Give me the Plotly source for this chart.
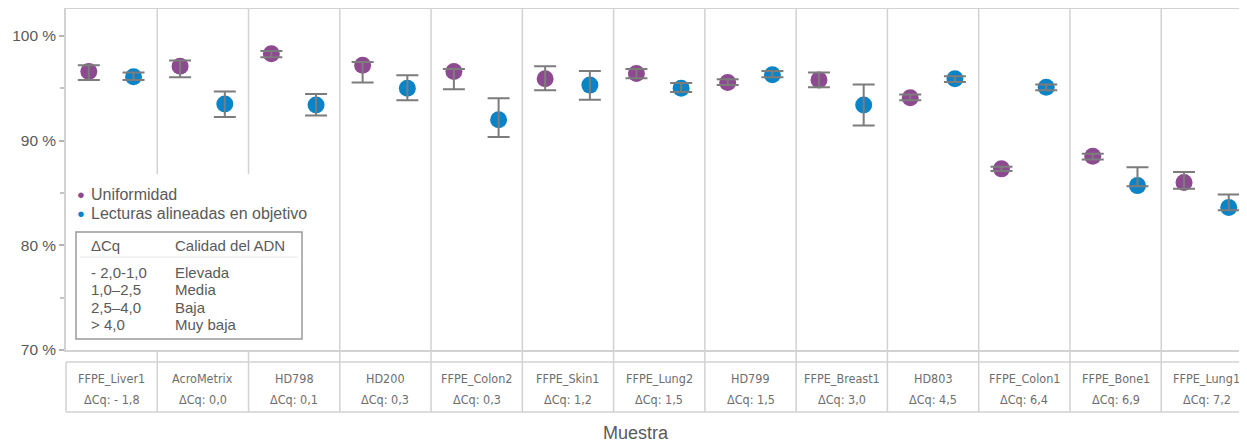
import numpy as np
import plotly.graph_objects as go

# ---------------- data ----------------
samples = ["FFPE_Liver1", "AcroMetrix", "HD798", "HD200", "FFPE_Colon2", "FFPE_Skin1",
           "FFPE_Lung2", "HD799", "FFPE_Breast1", "HD803", "FFPE_Colon1", "FFPE_Bone1", "FFPE_Lung1"]
dcq_labels = ["- 1,8", "0,0", "0,1", "0,3", "0,3", "1,2", "1,5", "1,5", "3,0", "4,5", "6,4", "6,9", "7,2"]

uniformidad = [96.6, 97.1, 98.3, 97.2, 96.6, 95.9, 96.4, 95.55, 95.8, 94.1, 87.3, 88.5, 86.0]
uniformidad_hi = [97.2, 97.65, 98.55, 97.5, 96.85, 97.1, 96.85, 95.85, 96.5, 94.4, 87.5, 88.75, 87.0]
uniformidad_lo = [95.8, 96.05, 97.95, 95.55, 94.9, 94.8, 95.95, 95.3, 95.1, 93.85, 87.1, 88.2, 85.4]

lecturas = [96.1, 93.5, 93.4, 95.0, 92.0, 95.3, 95.0, 96.3, 93.4, 95.9, 95.1, 85.7, 83.6]
lecturas_hi = [96.5, 94.7, 94.45, 96.25, 94.05, 96.65, 95.5, 96.65, 95.35, 96.15, 95.35, 87.45, 84.85]
lecturas_lo = [95.8, 92.25, 92.4, 93.85, 90.35, 93.9, 94.65, 96.05, 91.45, 95.6, 94.8, 85.65, 83.35]

y_tickvals = [70, 80, 90, 100]
y_ticktext = ["70 %", "80 %", "90 %", "100 %"]

legend_names = ["Uniformidad", "Lecturas alineadas en objetivo"]
box_header = ["ΔCq", "Calidad del ADN"]
box_ranges = ["- 2,0-1,0", "1,0–2,5", "2,5–4,0", "> 4,0"]
box_quality = ["Elevada", "Media", "Baja", "Muy baja"]
x_title = "Muestra"

# ---------------- styling ----------------
PURPLE = "#8E4A91"
BLUE = "#0A84C6"
ERR = "#7c7c7c"
GRID = "#d2d2d2"
TXT = "#5a5a5a"
FONT = "Liberation Sans, Arial, sans-serif"
NARROW = "Liberation Sans Narrow, DejaVu Sans Condensed, Liberation Sans, sans-serif"

OFF = 8                      # page body margin of the html page
W, H = 1247 - OFF, 443 - OFF
ML, MR, MT, MB = 58, 0, 1, 93
PH = H - MT - MB
PW = W - ML - MR


def py(ypx):
    """reference window pixel y -> paper y"""
    return (H - MB - (ypx - OFF)) / PH


def px(xpx):
    """reference window pixel x -> paper x"""
    return (xpx - OFF - ML) / PW


idx = np.arange(len(samples))
x_u = idx - 0.25
x_l = idx + 0.24


def err(v, hi, lo):
    v, hi, lo = np.array(v), np.array(hi), np.array(lo)
    return dict(type="data", symmetric=False, array=hi - v, arrayminus=v - lo,
                color=ERR, thickness=2, width=11)


fig = go.Figure()
fig.add_trace(go.Scatter(x=x_u, y=uniformidad, mode="markers", name=legend_names[0],
                         marker=dict(color=PURPLE, size=17), showlegend=False))
fig.add_trace(go.Scatter(x=x_l, y=lecturas, mode="markers", name=legend_names[1],
                         marker=dict(color=BLUE, size=17), showlegend=False))
# error bars drawn on top of the markers
fig.add_trace(go.Scatter(x=x_u, y=uniformidad, mode="markers", hoverinfo="skip",
                         marker=dict(color=PURPLE, size=1, opacity=0), showlegend=False,
                         error_y=err(uniformidad, uniformidad_hi, uniformidad_lo)))
fig.add_trace(go.Scatter(x=x_l, y=lecturas, mode="markers", hoverinfo="skip",
                         marker=dict(color=BLUE, size=1, opacity=0), showlegend=False,
                         error_y=err(lecturas, lecturas_hi, lecturas_lo)))

shapes = []
annotations = []
n = len(samples)
tbl_top, tbl_bot = py(362), py(412)
YTOP = 102.57


def note(x, y, text, size, color=TXT, family=FONT, xref="paper", xanchor="center"):
    annotations.append(dict(x=x, y=y, xref=xref, yref="paper", text=text, showarrow=False,
                            xanchor=xanchor, yanchor="middle",
                            font=dict(family=family, size=size, color=color)))


# vertical dividers
for i in range(n - 1):
    xv = i + 0.5
    if i < 2:
        shapes.append(dict(type="line", xref="x", yref="y", x0=xv, x1=xv, y0=86.8, y1=YTOP,
                           line=dict(color=GRID, width=1.5)))
        shapes.append(dict(type="line", xref="x", yref="paper", x0=xv, x1=xv, y0=tbl_bot, y1=0,
                           line=dict(color=GRID, width=1.5)))
    else:
        shapes.append(dict(type="line", xref="x", yref="paper", x0=xv, x1=xv, y0=tbl_bot, y1=1,
                           line=dict(color=GRID, width=1.5)))

# table frame
for yy in (tbl_top, tbl_bot):
    shapes.append(dict(type="line", xref="paper", yref="paper", x0=0, x1=1, y0=yy, y1=yy,
                       line=dict(color=GRID, width=1.5)))
shapes.append(dict(type="line", xref="paper", yref="paper", x0=0, x1=0, y0=tbl_bot, y1=tbl_top,
                   line=dict(color=GRID, width=1.5)))

# table text
for i in range(n):
    note(i, py(378), samples[i], 12.5, "#6e6e6e", NARROW, xref="x")
    note(i, py(399), "ΔCq: " + dcq_labels[i], 12.5, "#6e6e6e", NARROW, xref="x")

note(px(636), py(433), x_title, 18)

# custom legend
for k, (name, col) in enumerate(zip(legend_names, [PURPLE, BLUE])):
    yy = py(194 + 19 * k)
    note(px(75), yy, "●", 13, col, xanchor="left")
    note(px(89), yy, name, 16, xanchor="left")

# legend box
shapes.append(dict(type="rect", xref="paper", yref="paper", x0=px(76), x1=px(302), y0=py(339), y1=py(232),
                   line=dict(color="#9a9a9a", width=1.5), fillcolor="white"))
shapes.append(dict(type="line", xref="paper", yref="paper", x0=px(80), x1=px(298), y0=py(257), y1=py(257),
                   line=dict(color="#e6e6e6", width=1)))
note(px(89), py(245), box_header[0], 15, xanchor="left")
note(px(173), py(245), box_header[1], 15, xanchor="left")
for k in range(len(box_ranges)):
    yy = py(272 + 17.6 * k)
    note(px(89), yy, box_ranges[k], 15, xanchor="left")
    note(px(173), yy, box_quality[k], 15, xanchor="left")

fig.update_layout(
    width=W, height=H, autosize=False,
    margin=dict(l=ML, r=MR, t=MT, b=MB, pad=0),
    paper_bgcolor="white", plot_bgcolor="white",
    font=dict(family=FONT, color=TXT),
    shapes=shapes, annotations=annotations,
    xaxis=dict(range=[-0.5, n - 0.56], showgrid=False, zeroline=False, showticklabels=False,
               showline=True, linecolor=GRID, linewidth=1.5, mirror=True, ticks=""),
    yaxis=dict(range=[70, YTOP], showgrid=False, zeroline=False,
               tickvals=y_tickvals, ticktext=y_ticktext, tickfont=dict(size=15.5, color=TXT),
               showline=True, linecolor=GRID, linewidth=1.5,
               ticks="outside", ticklen=5, tickcolor="#b5b5b5", tickwidth=1.5,
               minor=dict(ticks="outside", dtick=5, ticklen=4, tickcolor="#c5c5c5", tickwidth=1.5)),
)

fig.write_html("out.html")
